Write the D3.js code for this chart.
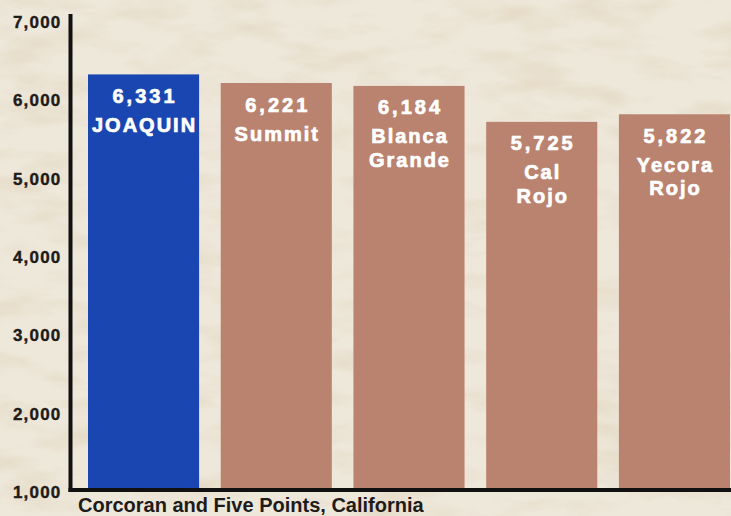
<!DOCTYPE html>
<html>
<head>
<meta charset="utf-8">
<script src="https://cdn.jsdelivr.net/npm/d3@7"></script>
<style>
  html, body { margin: 0; padding: 0; background: #e9e1d1; overflow: hidden; }
</style>
</head>
<body>
<div id="chart"></div>
<script>
// Wheat yield by variety, Corcoran and Five Points

// Data
var varieties = ["JOAQUIN", "Summit", "Blanca Grande", "Cal Rojo", "Yecora Rojo"];
var yields = [6331, 6221, 6184, 5725, 5822];
var tickValues = [1000, 2000, 3000, 4000, 5000, 6000, 7000];
var footnote = "Corcoran and Five Points, California";

var width = 731,
    height = 516;

var svg = d3.select("#chart")
    .append("svg")
    .attr("width", width)
    .attr("height", height);

// Textured paper-ish background
var defs = svg.append("defs");
var filter = defs.append("filter")
    .attr("id", "paper")
    .attr("x", 0).attr("y", 0)
    .attr("width", "100%").attr("height", "100%");
filter.append("feTurbulence")
    .attr("type", "fractalNoise")
    .attr("baseFrequency", "0.014 0.04")
    .attr("numOctaves", 4)
    .attr("seed", 7)
    .attr("result", "noise");
filter.append("feColorMatrix")
    .attr("in", "noise")
    .attr("type", "matrix")
    .attr("values", "0 0 0 0 0.76  0 0 0 0 0.67  0 0 0 0 0.52  2.4 0 0 0 -1.05");

svg.append("rect")
    .attr("width", width)
    .attr("height", height)
    .attr("fill", "#eee8db");
svg.append("rect")
    .attr("width", width)
    .attr("height", height)
    .attr("filter", "url(#paper)")
    .attr("opacity", 0.7);

// Scales
var y = d3.scaleLinear()
    .domain([1000, 7000])
    .range([492, 22]);

var x = d3.scaleBand()
    .domain(varieties)
    .range([88, 730])
    .paddingInner(0.163)
    .paddingOuter(0);

// Bars
var bars = svg.selectAll(".bar")
    .data(varieties)
    .enter()
    .append("g")
    .attr("class", "bar")
    .attr("transform", function(d, i) {
        return "translate(" + x(d) + "," + y(yields[i]) + ")";
    });

bars.append("rect")
    .attr("width", x.bandwidth())
    .attr("height", function(d, i) { return y(1000) - y(yields[i]); })
    .attr("fill", function(d, i) { return i === 0 ? "#1a46b2" : "#b9836f"; });

// value labels
bars.append("text")
    .attr("x", x.bandwidth() / 2 + 1.5)
    .attr("y", 28.5)
    .attr("text-anchor", "middle")
    .style("font", "bold 20px 'Liberation Sans', Arial, sans-serif")
    .style("letter-spacing", "3px")
    .style("fill", "#fff")
    .style("stroke", "#fff")
    .style("stroke-width", 0.7)
    .text(function(d, i) { return d3.format(",")(yields[i]); });

// variety names, one word per line
bars.each(function(d) {
    var words = d.split(" ");
    var g = d3.select(this);
    words.forEach(function(w, j) {
        g.append("text")
            .attr("x", x.bandwidth() / 2 + 1)
            .attr("y", 57.5 + j * 23.5)
            .attr("text-anchor", "middle")
            .style("font", "bold 20px 'Liberation Sans', Arial, sans-serif")
            .style("letter-spacing", "2px")
            .style("fill", "#fff")
            .style("stroke", "#fff")
            .style("stroke-width", 0.7)
            .text(w);
    });
});

// Y axis
var yAxis = d3.axisLeft(y)
    .tickValues(tickValues)
    .tickSize(0)
    .tickPadding(9)
    .tickFormat(d3.format(","));

var axisG = svg.append("g")
    .attr("transform", "translate(70.5,0)")
    .call(yAxis);
axisG.select(".domain").remove();
axisG.selectAll("text")
    .style("font", "bold 17px 'Liberation Sans', Arial, sans-serif")
    .style("letter-spacing", "1.2px")
    .style("fill", "#1e1b18")
    .style("stroke", "#1e1b18")
    .style("stroke-width", 0.4);

// axis lines
svg.append("line")
    .attr("x1", 70.5).attr("x2", 70.5)
    .attr("y1", 14).attr("y2", y(1000))
    .attr("stroke", "#111")
    .attr("stroke-width", 4);
svg.append("line")
    .attr("x1", 68.5).attr("x2", width)
    .attr("y1", 490).attr("y2", 490)
    .attr("stroke", "#111")
    .attr("stroke-width", 4);

// Footnote
svg.append("text")
    .attr("x", 78)
    .attr("y", 512)
    .style("font", "bold 20px 'Liberation Sans', Arial, sans-serif")
    .style("fill", "#1e1b18")
    .text(footnote);
</script>
</body>
</html>
